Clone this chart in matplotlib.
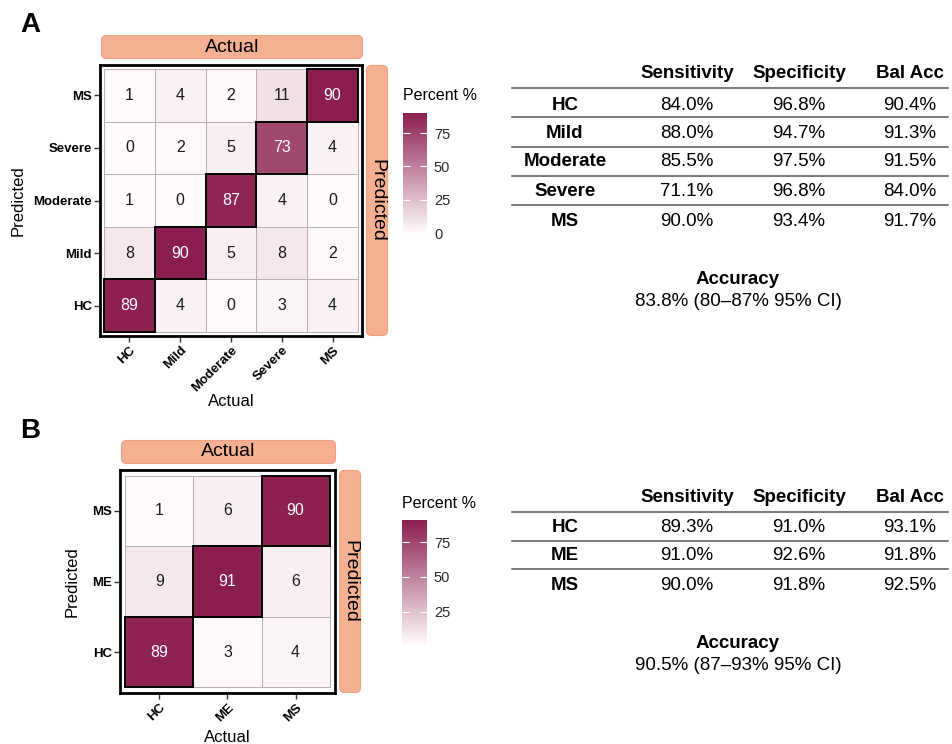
import matplotlib
matplotlib.use("Agg")
import matplotlib.pyplot as plt
import numpy as np
from matplotlib.colors import LinearSegmentedColormap
from matplotlib.patches import FancyBboxPatch, Rectangle
from matplotlib.lines import Line2D

plt.rcParams['font.family'] = ['Liberation Sans', 'DejaVu Sans']

W, H = 953, 744
DPI = 100

# Panel A: five-class confusion matrix (rows = predicted, cols = actual), in percent
classes_a = ["HC", "Mild", "Moderate", "Severe", "MS"]
matrix_a = [
    [89, 4, 0, 3, 4],     # predicted HC
    [8, 90, 5, 8, 2],     # predicted Mild
    [1, 0, 87, 4, 0],     # predicted Moderate
    [0, 2, 5, 73, 4],     # predicted Severe
    [1, 4, 2, 11, 90],    # predicted MS
]
sens_a = ["84.0%", "88.0%", "85.5%", "71.1%", "90.0%"]
spec_a = ["96.8%", "94.7%", "97.5%", "96.8%", "93.4%"]
balacc_a = ["90.4%", "91.3%", "91.5%", "84.0%", "91.7%"]
accuracy_a = "83.8% (80\u201387% 95% CI)"

# Panel B: three-class confusion matrix
classes_b = ["HC", "ME", "MS"]
matrix_b = [
    [89, 3, 4],
    [9, 91, 6],
    [1, 6, 90],
]
sens_b = ["89.3%", "91.0%", "90.0%"]
spec_b = ["91.0%", "92.6%", "91.8%"]
balacc_b = ["93.1%", "91.8%", "92.5%"]
accuracy_b = "90.5% (87\u201393% 95% CI)"

metric_names = ["Sensitivity", "Specificity", "Bal Acc"]

cmap = LinearSegmentedColormap.from_list("wine", ["#fffbfb", "#8b1e50"])
STRIP = "#f5b092"
STRIP_EDGE = "#f1a07e"

fig = plt.figure(figsize=(W / DPI, H / DPI), dpi=DPI)


def fx(x):
    return x / W


def fy(y):
    return 1 - y / H


def px_axes(x0, y0, x1, y1):
    """Axes from pixel box given with a top-left origin."""
    return fig.add_axes([fx(x0), fy(y1), (x1 - x0) / W, (y1 - y0) / H])


def strip(x0, y0, x1, y1, text, vertical=False):
    sax = px_axes(x0, y0, x1, y1)
    sax.set_xlim(0, x1 - x0)
    sax.set_ylim(0, y1 - y0)
    sax.axis("off")
    sax.add_patch(FancyBboxPatch((0.5, 0.5), x1 - x0 - 1, y1 - y0 - 1,
                                 boxstyle="round,pad=0,rounding_size=5",
                                 fc=STRIP, ec=STRIP_EDGE, lw=0.8, clip_on=False))
    sax.text((x1 - x0) / 2, (y1 - y0) / 2, text, ha="center", va="center",
             fontsize=14, rotation=-90 if vertical else 0)


def confusion_panel(matrix, classes, frame, cbar_box, cbar_ticks, ylab_x, xlab_y):
    data = np.array(matrix)
    n = len(classes)
    x0, y0, x1, y1 = frame
    ax = px_axes(x0, y0, x1, y1)
    pad = 0.08
    mesh = ax.pcolormesh(np.arange(n + 1) - 0.5, np.arange(n + 1) - 0.5, data,
                         cmap=cmap, vmin=data.min(), vmax=data.max(),
                         edgecolors="#b9aeb3", linewidth=0.7)
    ax.set_xlim(-0.5 - pad, n - 0.5 + pad)
    ax.set_ylim(-0.5 - pad, n - 0.5 + pad)
    for i in range(n):
        ax.add_patch(Rectangle((i - 0.5, i - 0.5), 1, 1, fill=False,
                               ec="black", lw=1.4, zorder=3))
        for j in range(n):
            v = data[i, j]
            ax.text(j, i, str(v), ha="center", va="center", fontsize=11.5,
                    color="white" if v > 50 else "#1a1a1a", zorder=4)
    for s in ax.spines.values():
        s.set_linewidth(2)
        s.set_color("black")
    ax.set_xticks(range(n))
    ax.set_yticks(range(n))
    ax.set_xticklabels(classes, rotation=45, ha="right", rotation_mode="anchor",
                       fontsize=9.5, fontweight="bold")
    ax.set_yticklabels(classes, fontsize=9.5, fontweight="bold")
    ax.tick_params(length=4, width=1, color="#333333", pad=2)

    # strips on top and right
    strip(x0 + 1, y0 - 30, x1 + 1, y0 - 6, "Actual")
    strip(x1 + 4, y0, x1 + 26, y1, "Predicted", vertical=True)

    fig.text(fx((x0 + x1) / 2), fy(xlab_y), "Actual", ha="center", va="center",
             fontsize=12)
    fig.text(fx(ylab_x), fy((y0 + y1) / 2), "Predicted", ha="center", va="center",
             rotation=90, fontsize=12)

    cx0, cy0, cx1, cy1 = cbar_box
    cax = px_axes(cx0, cy0, cx1, cy1)
    cb = fig.colorbar(mesh, cax=cax)
    cb.outline.set_visible(False)
    cb.set_ticks(cbar_ticks)
    cax.tick_params(axis="y", direction="in", color="white", length=5, width=0.8,
                    left=True, right=True, labelleft=False, labelright=True,
                    labelsize=10.5, labelcolor="#2a2a2a", pad=5)
    fig.text(fx(cx0), fy(cy0 - 17), "Percent %", ha="left", va="center",
             fontsize=11.5)
    return ax


def metrics_table(row_names, sens, spec, balacc, header_y, row_ys, line_ys,
                  acc_y, acc_text):
    col_x = [687, 799, 910]
    for name, x in zip(metric_names, col_x):
        fig.text(fx(x), fy(header_y), name, ha="center", va="center",
                 fontsize=13.5, fontweight="bold")
    for name, y, a, b, c in zip(row_names, row_ys, sens, spec, balacc):
        fig.text(fx(565), fy(y), name, ha="center", va="center",
                 fontsize=13.5, fontweight="bold")
        for val, x in zip([a, b, c], col_x):
            fig.text(fx(x), fy(y), val, ha="center", va="center", fontsize=13.5)
    for y in line_ys:
        fig.add_artist(Line2D([fx(512), fx(948)], [fy(y), fy(y)],
                              color="#555555", lw=1.1))
    fig.text(fx(738), fy(acc_y), "Accuracy", ha="center", va="center",
             fontsize=13.5, fontweight="bold")
    fig.text(fx(738), fy(acc_y + 23), acc_text, ha="center", va="center",
             fontsize=13.5)


# Panel A
fig.text(fx(30), fy(25), "A", ha="center", va="center", fontsize=20,
         fontweight="bold")
confusion_panel(matrix_a, classes_a, (100, 65, 362, 336), (403, 113, 427, 233),
                [0, 25, 50, 75], ylab_x=18, xlab_y=402)
metrics_table(classes_a, sens_a, spec_a, balacc_a, 74,
              [105, 133, 162, 192, 221], [88, 117, 147, 176, 205],
              279, accuracy_a)

# Panel B
fig.text(fx(30), fy(431), "B", ha="center", va="center", fontsize=20,
         fontweight="bold")
confusion_panel(matrix_b, classes_b, (120, 470, 335, 693), (402, 520, 427, 645),
                [25, 50, 75], ylab_x=72, xlab_y=737)
metrics_table(classes_b, sens_b, spec_b, balacc_b, 498,
              [527, 556, 585], [512, 541, 569], 643, accuracy_b)

fig.savefig("out.png", dpi=DPI)
